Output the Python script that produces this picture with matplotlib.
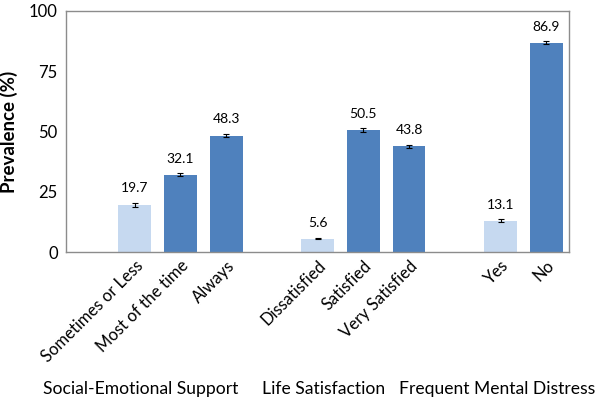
import matplotlib.pyplot as plt
import numpy as np

plt.rcParams['font.family'] = ['Lato', 'DejaVu Sans']

categories = ["Sometimes or Less", "Most of the time", "Always",
              "Dissatisfied", "Satisfied", "Very Satisfied",
              "Yes", "No"]
values = [19.7, 32.1, 48.3, 5.6, 50.5, 43.8, 13.1, 86.9]
errors = [0.8, 0.7, 0.7, 0.3, 0.8, 0.7, 0.5, 0.5]
light = [True, False, False, True, False, False, True, False]
groups = ["Social-Emotional Support", "Life Satisfaction", "Frequent Mental Distress"]

# slot positions (empty slot before each group)
slots = [1, 2, 3, 5, 6, 7, 9, 10]
group_x = [1.14, 5.13, 8.92]

c_light = "#c6d9f0"
c_dark = "#4f81bd"
colors = [c_light if l else c_dark for l in light]

fig = plt.figure(figsize=(6.01, 4.04), dpi=100)
ax = fig.add_axes([0.110, 0.376, 0.837, 0.597])

ax.bar(slots, values, width=0.715, color=colors, zorder=2)
ax.errorbar(slots, values, yerr=errors, fmt="none", ecolor="black",
            elinewidth=0.8, capsize=2.5, capthick=0.8, zorder=3)

for x, v, e in zip(slots, values, errors):
    ax.text(x, v + e + 3.5, f"{v:.1f}", ha="center", va="bottom", fontsize=10)

ax.set_xlim(-0.5, 10.5)
ax.set_ylim(0, 100)
ax.set_yticks([0, 25, 50, 75, 100])
ax.tick_params(axis="y", length=0, labelsize=12, pad=6)
ax.set_xticks(slots)
ax.set_xticklabels(categories, rotation=45, ha="right", va="top",
                   rotation_mode="anchor", fontsize=12)
ax.tick_params(axis="x", length=0, pad=4)
ax.set_ylabel("Prevalence (%)", fontsize=13.5, fontweight="bold", labelpad=8)

for s in ax.spines.values():
    s.set_color("#8c8c8c")
    s.set_linewidth(1.0)

for gx, g in zip(group_x, groups):
    ax.annotate(g, xy=(gx, 0.037), xycoords=("data", "figure fraction"),
                ha="center", va="center", fontsize=12.6, annotation_clip=False)

fig.savefig("out.png", dpi=100)
